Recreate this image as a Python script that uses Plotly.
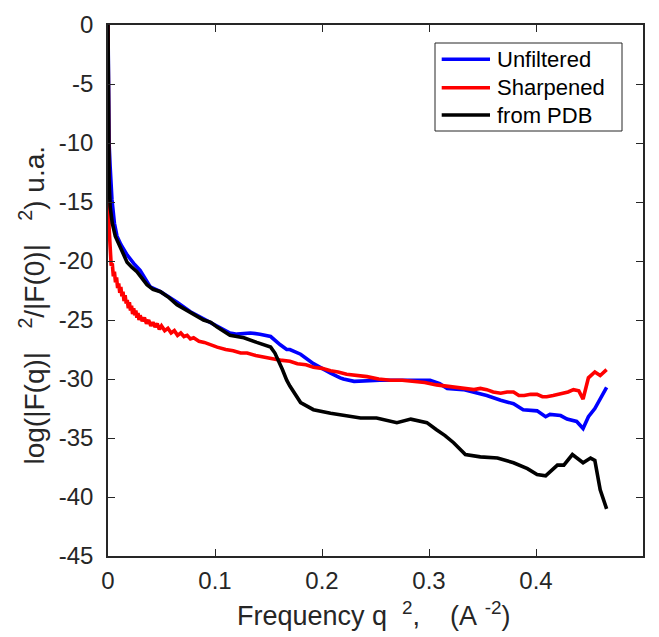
import plotly.graph_objects as go

# ---- data ----
pdb_x = [0, 0.0003, 0.0006, 0.001, 0.002, 0.004, 0.0068, 0.0115, 0.0178, 0.022, 0.027, 0.0364, 0.042,
         0.049, 0.057, 0.0645, 0.077, 0.0893, 0.096, 0.102, 0.114, 0.127, 0.139, 0.152, 0.156, 0.1607,
         0.163, 0.167, 0.170, 0.180, 0.192, 0.208, 0.222, 0.236, 0.251, 0.262, 0.270, 0.283, 0.298,
         0.307, 0.315, 0.323, 0.334, 0.348, 0.364, 0.379, 0.392, 0.401, 0.409, 0.420, 0.426, 0.434,
         0.444, 0.451, 0.455, 0.460, 0.466]
pdb_y = [0, -6, -11.4, -13.1, -15.4, -16.8, -17.9, -18.8, -20.1, -20.5, -20.9, -22.0, -22.4,
         -22.6, -23.1, -23.7, -24.4, -25.0, -25.2, -25.6, -26.3, -26.5, -26.9, -27.3, -27.8, -28.7,
         -29.2, -30.1, -30.6, -32.0, -32.6, -32.9, -33.1, -33.3, -33.3, -33.5, -33.7, -33.4, -33.7,
         -34.3, -34.8, -35.4, -36.4, -36.6, -36.7, -37.1, -37.6, -38.1, -38.2, -37.3, -37.3, -36.4,
         -37.1, -36.7, -36.9, -39.4, -41.0]

unf_x = [0, 0.0005, 0.001, 0.002, 0.0037, 0.006, 0.0084, 0.012, 0.018, 0.024, 0.03, 0.0395, 0.049,
         0.0645, 0.077, 0.0893, 0.102, 0.114, 0.1206, 0.133, 0.142, 0.152, 0.161, 0.167, 0.170, 0.180,
         0.192, 0.2015, 0.208, 0.217, 0.220, 0.230, 0.254, 0.279, 0.301, 0.310, 0.317, 0.332, 0.354,
         0.367, 0.379, 0.388, 0.401, 0.409, 0.413, 0.423, 0.429, 0.438, 0.444, 0.449, 0.455, 0.466]
unf_y = [0, -6, -10, -12, -14.8, -16.8, -17.9, -18.6, -19.5, -20.2, -20.8, -22.2, -22.6,
         -23.5, -24.3, -24.9, -25.5, -26.1, -26.2, -26.1, -26.2, -26.4, -27.1, -27.5, -27.5, -27.9,
         -28.7, -29.2, -29.5, -29.9, -30.0, -30.2, -30.1, -30.1, -30.1, -30.4, -30.8, -30.9, -31.4,
         -31.8, -32.1, -32.6, -32.7, -33.2, -33.0, -33.1, -33.4, -33.6, -34.2, -33.2, -32.5, -30.7]

shp_x = [0, 0.0002, 0.0004, 0.0006, 0.001, 0.002, 0.003, 0.004, 0.005, 0.006, 0.007, 0.008, 0.009,
         0.010, 0.011, 0.012, 0.013, 0.014, 0.015, 0.016, 0.017, 0.018, 0.019, 0.020, 0.021, 0.022,
         0.023, 0.024, 0.025, 0.026, 0.027, 0.028, 0.029, 0.030, 0.032, 0.034, 0.036, 0.038, 0.040,
         0.042, 0.044, 0.046, 0.048, 0.050, 0.053, 0.056, 0.059, 0.062, 0.065, 0.068, 0.071, 0.074,
         0.077, 0.080, 0.085, 0.090, 0.095, 0.102, 0.110, 0.117, 0.124, 0.130, 0.138, 0.1455, 0.155,
         0.161, 0.170, 0.177, 0.185, 0.192, 0.200, 0.208, 0.215, 0.223, 0.233, 0.242, 0.253, 0.264,
         0.275, 0.286, 0.296, 0.307, 0.315, 0.323, 0.333, 0.342, 0.348, 0.354, 0.360, 0.367, 0.373,
         0.379, 0.384, 0.389, 0.395, 0.401, 0.406, 0.410, 0.416, 0.421, 0.426, 0.430, 0.435, 0.440,
         0.444, 0.449, 0.455, 0.460, 0.466]
shp_y = [0, -6, -10.6, -13.7, -17.1, -18.8, -20.4, -20.2, -21.3, -20.9, -21.8, -21.4, -22.3,
         -21.9, -22.7, -22.2, -23.0, -22.6, -23.4, -22.9, -23.6, -23.3, -24.0, -23.5, -24.2, -23.8,
         -24.5, -24.0, -24.6, -24.2, -24.8, -24.4, -25.0, -24.6, -25.1, -24.8, -25.3, -25.0, -25.5,
         -25.2, -25.6, -25.3, -25.8, -25.5, -25.9, -25.7, -26.1, -25.9, -26.3, -26.1, -26.4, -26.3,
         -26.6, -26.5, -26.8, -26.9, -27.1, -27.3, -27.5, -27.6, -27.8, -27.8, -28.0, -28.1, -28.3,
         -28.4, -28.5, -28.7, -28.8, -29.0, -29.1, -29.3, -29.4, -29.6, -29.7, -29.8, -30.0, -30.1,
         -30.1, -30.2, -30.3, -30.5, -30.6, -30.7, -30.8, -30.9, -30.8, -30.9, -31.1, -31.2, -31.1,
         -31.1, -31.4, -31.4, -31.3, -31.3, -31.5, -31.5, -31.4, -31.3, -31.2, -31.1, -30.9, -31.0,
         -31.7, -29.9, -29.4, -29.7, -29.2]

series_names = ["Unfiltered", "Sharpened", "from PDB"]
series_colors = ["#0000ff", "#ff0000", "#000000"]

x_ticks = [0, 0.1, 0.2, 0.3, 0.4, 0.5]
x_ticklabels = ["0", "0.1", "0.2", "0.3", "0.4", "0.5"]
y_ticks = [0, -5, -10, -15, -20, -25, -30, -35, -40, -45]
y_ticklabels = ["0", "-5", "-10", "-15", "-20", "-25", "-30", "-35", "-40", "-45"]
NB = "\u00a0"
x_title = "Frequency q" + NB * 2 + "<sup>2</sup>," + NB * 4 + "(A" + NB + "<sup>-2</sup>)"
y_title = "log(|F(q)|" + NB * 3 + "<sup>2</sup>/|F(0)|" + NB * 3 + "<sup>2</sup>) u.a."

FONT = "Liberation Sans, Arial, Helvetica, sans-serif"
AX = "#262626"

W, H = 651, 629
ML, MR, MT, MB = 100, 16, 17, 81
PW, PH = W - ML - MR, H - MT - MB


def px(fx):  # figure pixel -> paper x
    return (fx - ML) / PW


def py(fy):  # figure pixel -> paper y
    return 1 - (fy - MT) / PH


fig = go.Figure()
for xs, ys, nm, col in zip([unf_x, shp_x, pdb_x], [unf_y, shp_y, pdb_y], series_names, series_colors):
    fig.add_trace(go.Scatter(x=xs, y=ys, mode="lines", name=nm,
                             line=dict(color=col, width=3.6), showlegend=False))

axis_common = dict(showline=True, linecolor=AX, linewidth=1.5, mirror="ticks",
                   ticks="inside", ticklen=7, tickwidth=1.3, tickcolor=AX,
                   showgrid=False, zeroline=False, automargin=False,
                   tickfont=dict(family=FONT, size=24, color=AX))

fig.update_xaxes(range=[0, 0.5], tickvals=x_ticks, ticktext=x_ticklabels,
                 ticklabelstandoff=2, **axis_common)
fig.update_yaxes(range=[-45, 0], tickvals=y_ticks, ticktext=y_ticklabels,
                 ticklabelstandoff=8, **axis_common)

fig.add_annotation(text=x_title, xref="paper", yref="paper", x=0.5, y=0,
                   xanchor="center", yanchor="middle", xshift=-2, yshift=-58,
                   showarrow=False, font=dict(family=FONT, size=27, color=AX))
fig.add_annotation(text=y_title, xref="paper", yref="paper", x=0, y=0.5,
                   xanchor="center", yanchor="middle", xshift=-76, yshift=-15,
                   textangle=-90,
                   showarrow=False, font=dict(family=FONT, size=28, color=AX))

# legend box (drawn as shapes + text)
LB_L, LB_R, LB_T, LB_B = 427, 614, 35, 123
fig.add_shape(type="rect", xref="paper", yref="paper",
              x0=px(LB_L), x1=px(LB_R), y0=py(LB_B), y1=py(LB_T),
              line=dict(color=AX, width=1), fillcolor="white", layer="above")
row_y = [51.3, 79.7, 107]
for ry, nm, col in zip(row_y, series_names, series_colors):
    fig.add_shape(type="line", xref="paper", yref="paper",
                  x0=px(433.7), x1=px(482), y0=py(ry), y1=py(ry),
                  line=dict(color=col, width=3.6), layer="above")
    fig.add_annotation(text=nm, xref="paper", yref="paper", x=px(487), y=py(ry),
                       xanchor="left", yanchor="middle", showarrow=False,
                       font=dict(family=FONT, size=22, color="#000000"))

fig.update_layout(
    width=W, height=H, autosize=False,
    margin=dict(l=ML, r=MR, t=MT, b=MB),
    paper_bgcolor="white", plot_bgcolor="white",
    showlegend=False,
)

fig.write_html("out.html")
